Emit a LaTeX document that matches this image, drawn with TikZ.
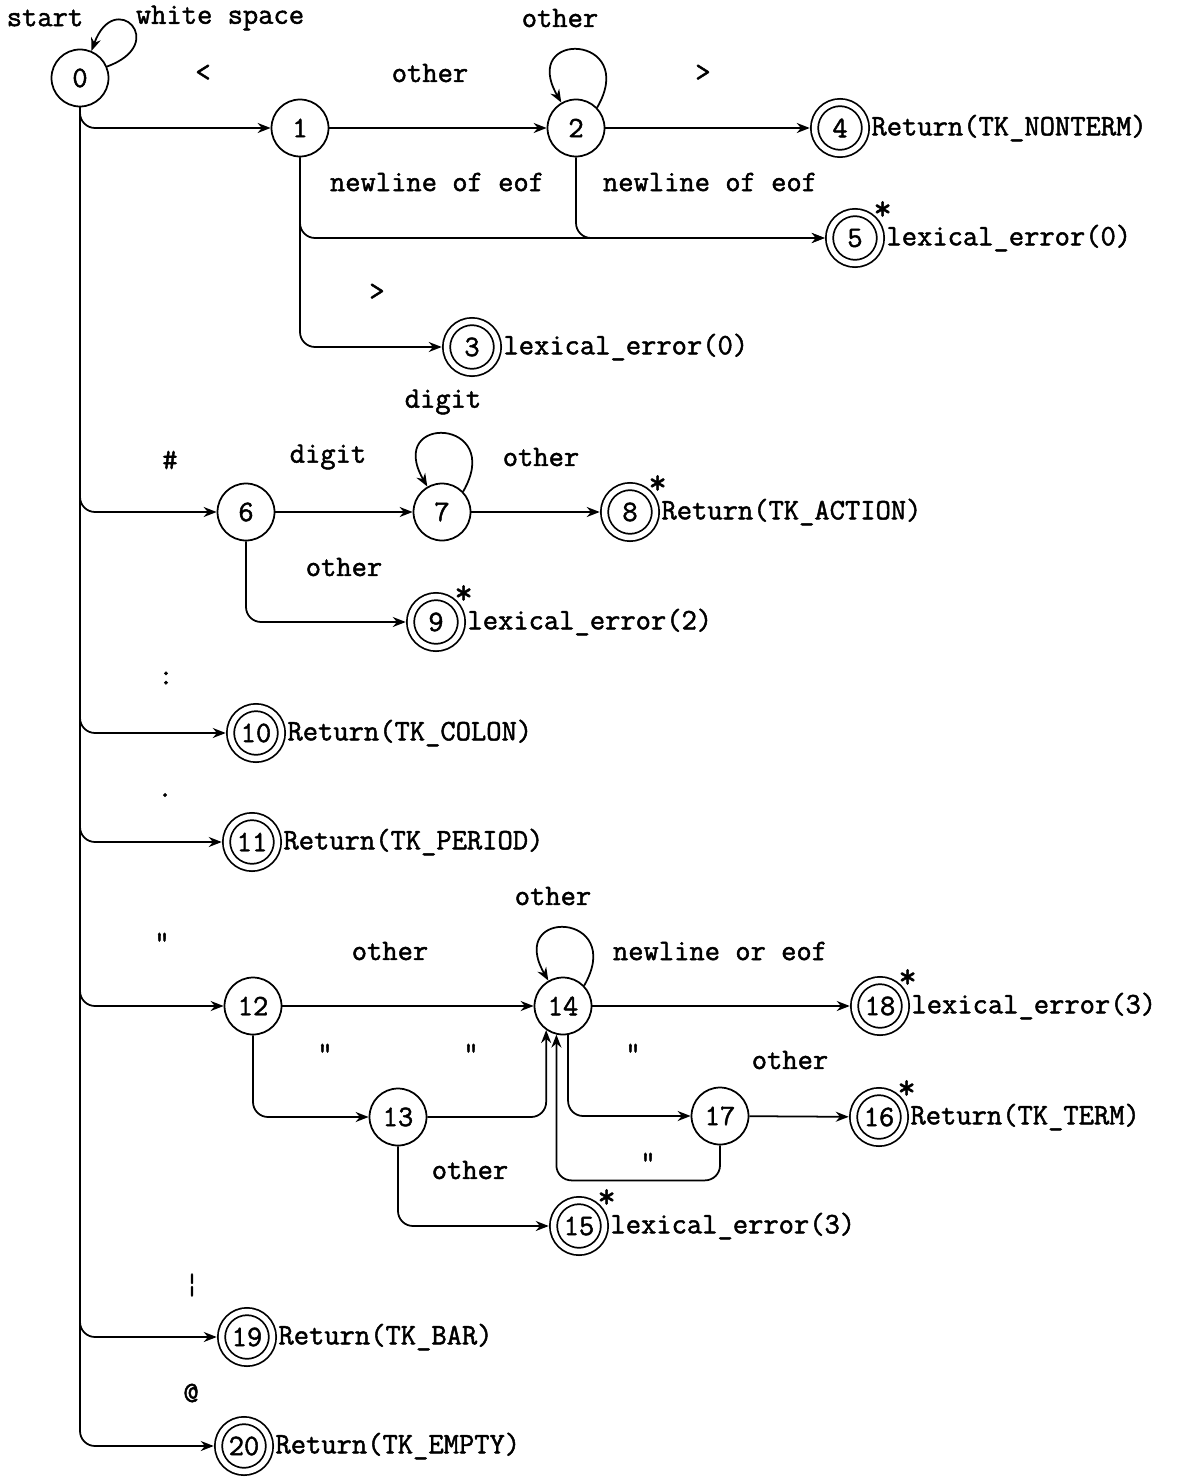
\documentclass[tikz,border=0pt]{standalone}
\usepackage{fontspec}
\setmonofont{Latin Modern Mono}[AutoFakeBold=1.6]
\usetikzlibrary{arrows.meta,positioning}

\begin{document}
\begin{tikzpicture}[x=0.02cm,y=0.02cm, font=\ttfamily\bfseries\fontsize{16.9}{19}\selectfont, st/.style={draw,circle,line width=1pt,minimum size=1.14cm,inner sep=0pt}, acc/.style={st,double,double distance=1.1mm,minimum size=1.02cm,outer sep=0.95mm}, arr/.style={-{Stealth[length=2.6mm,width=2mm]},line width=1pt}, lb/.style={inner sep=0pt}, res/.style={inner sep=0.5pt}, ast/.style={inner sep=0pt,label distance=0.3mm,yshift=-1.6mm,font=\ttfamily\bfseries\fontsize{20}{20}\selectfont}]
\useasboundingbox (0,0) rectangle (1178,-1480);
\node[st] (s0) at (80,-78) {0};
\node[st] (s1) at (300,-128) {1};
\node[st] (s2) at (576,-128) {2};
\node[acc] (s4) at (840,-128) {4};
\node[acc,label={[ast]55:*}] (s5) at (855,-238) {5};
\node[acc] (s3) at (472,-347) {3};
\node[st] (s6) at (246,-512) {6};
\node[st] (s7) at (442,-512) {7};
\node[acc,label={[ast]55:*}] (s8) at (630,-512) {8};
\node[acc,label={[ast]55:*}] (s9) at (436,-622) {9};
\node[acc] (s10) at (256,-733) {10};
\node[acc] (s11) at (252,-842) {11};
\node[st] (s12) at (253,-1006) {12};
\node[st] (s14) at (563,-1006) {14};
\node[acc,label={[ast]55:*}] (s18) at (880,-1006) {18};
\node[st] (s13) at (398,-1117) {13};
\node[st] (s17) at (720,-1116) {17};
\node[acc,label={[ast]55:*}] (s16) at (879,-1117) {16};
\node[acc,label={[ast]55:*}] (s15) at (579,-1226) {15};
\node[acc] (s19) at (247,-1337) {19};
\node[acc] (s20) at (244,-1446) {20};
\node[res,right=0pt of s4] (o4) {Return(TK\_NONTERM)};
\node[res,right=0pt of s5] (o5) {lexical\_error(0)};
\node[res,right=0pt of s3] (o3) {lexical\_error(0)};
\node[res,right=0pt of s8] (o8) {Return(TK\_ACTION)};
\node[res,right=0pt of s9] (o9) {lexical\_error(2)};
\node[res,right=0pt of s10] (o10) {Return(TK\_COLON)};
\node[res,right=0pt of s11] (o11) {Return(TK\_PERIOD)};
\node[res,right=0pt of s18] (o18) {lexical\_error(3)};
\node[res,right=0pt of s16] (o16) {Return(TK\_TERM)};
\node[res,right=0pt of s15] (o15) {lexical\_error(3)};
\node[res,right=0pt of s19] (o19) {Return(TK\_BAR)};
\node[res,right=0pt of s20] (o20) {Return(TK\_EMPTY)};
\node[lb] (e0) at (45,-18) {start};
\node[lb] (e1) at (220,-18) {white space};
\node[lb] (e2) at (203,-73) {<};
\node[lb] (e3) at (430,-73) {other};
\node[lb] (e4) at (560,-18) {other};
\node[lb] (e5) at (703,-73) {>};
\node[lb] (e6) at (437,-182) {newline of eof};
\node[lb] (e7) at (710,-182) {newline of eof};
\node[lb] (e8) at (377,-292) {>};
\node[lb] (e9) at (443,-402) {digit};
\node[lb] (e10) at (170,-460) {\#};
\node[lb] (e11) at (328,-457) {digit};
\node[lb] (e12) at (541,-457) {other};
\node[lb] (e13) at (344,-567) {other};
\node[lb] (e14) at (166,-678) {:};
\node[lb] (e15) at (165,-795) {.};
\node[lb] (e16) at (553,-896) {other};
\node[lb] (e17) at (162,-942) {\textquotedbl};
\node[lb] (e18) at (390,-951) {other};
\node[lb] (e19) at (720,-951) {newline or eof};
\node[lb] (e20) at (325,-1053) {\textquotedbl};
\node[lb] (e21) at (471,-1053) {\textquotedbl};
\node[lb] (e22) at (633,-1053) {\textquotedbl};
\node[lb] (e23) at (790,-1060) {other};
\node[lb] (e24) at (648,-1162) {\textquotedbl};
\node[lb] (e25) at (470,-1170) {other};
\node[lb] (e26) at (192,-1285) {¦};
\node[lb] (e27) at (191,-1393) {@};
\draw[arr] (s0.23) .. controls +(20:1.35cm) and +(70:1.35cm) .. (s0.67);
\draw[arr] (s2.44) .. controls +(60:1.7cm) and +(120:1.7cm) .. (s2.120);
\draw[arr] (s7.44) .. controls +(60:1.7cm) and +(120:1.7cm) .. (s7.120);
\draw[arr] (s14.44) .. controls +(60:1.7cm) and +(120:1.7cm) .. (s14.120);
\draw[arr,rounded corners=3mm] (s0.south) |- (s1); \draw[arr,rounded corners=3mm] (s0.south) |- (s6); \draw[arr,rounded corners=3mm] (s0.south) |- (s10); \draw[arr,rounded corners=3mm] (s0.south) |- (s11);
\draw[arr,rounded corners=3mm] (s0.south) |- (s12); \draw[arr,rounded corners=3mm] (s0.south) |- (s19); \draw[arr,rounded corners=3mm] (s0.south) |- (s20);
\draw[arr] (s1)--(s2); \draw[arr] (s2)--(s4); \draw[arr,rounded corners=3mm] (s1.south) |- (s5); \draw[arr,rounded corners=3mm] (s2.south) |- (s5); \draw[arr,rounded corners=3mm] (s1.south) |- (s3);
\draw[arr] (s6)--(s7); \draw[arr] (s7)--(s8); \draw[arr,rounded corners=3mm] (s6.south) |- (s9);
\draw[arr] (s12)--(s14); \draw[arr] (s14)--(s18); \draw[arr,rounded corners=3mm] (s12.south) |- (s13); \draw[arr,rounded corners=3mm] (s13.east) -| (s14.-125);
\draw[arr,rounded corners=3mm] (s14.-80) |- (s17); \draw[arr,rounded corners=3mm] (s17.south) -- ++(0,-35) -| (s14.-103); \draw[arr] (s17)--(s16); \draw[arr,rounded corners=3mm] (s13.south) |- (s15);
\end{tikzpicture}
\end{document}
